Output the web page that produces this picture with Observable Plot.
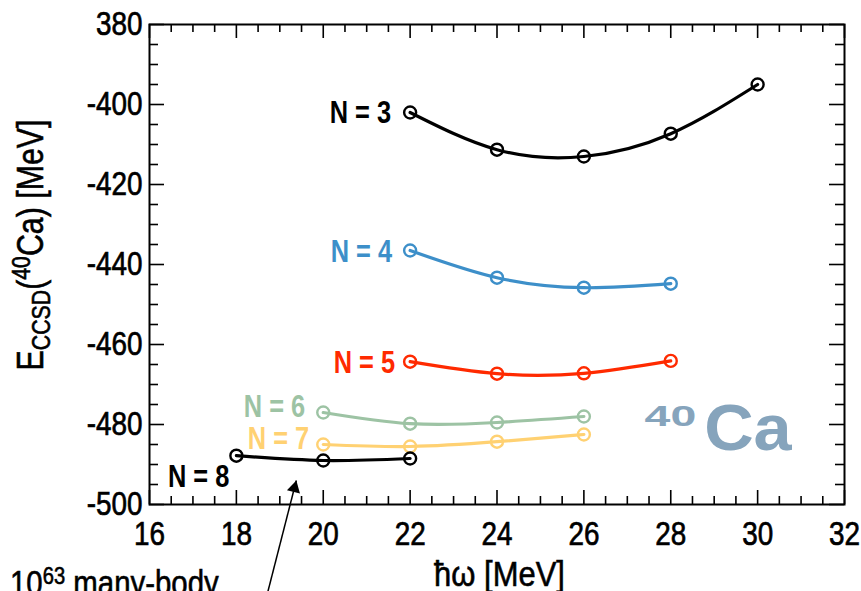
<!DOCTYPE html>
<html>
<head>
<meta charset="utf-8">
<script src="https://cdn.jsdelivr.net/npm/d3@7"></script>
<script src="https://cdn.jsdelivr.net/npm/@observablehq/plot@0.6"></script>
<style>
  html, body { margin: 0; padding: 0; background: #fff; }
  #chart svg { display: block; }
</style>
</head>
<body>
<div id="chart"></div>
<script>
// ---- data ----
const hw3 = [22, 24, 26, 28, 30];
const E3  = [-402.0, -411.3, -413.0, -407.3, -395.0];
const hw4 = [22, 24, 26, 28];
const E4  = [-436.5, -443.3, -445.8, -444.8];
const hw5 = [22, 24, 26, 28];
const E5  = [-464.3, -467.3, -467.2, -464.1];
const hw6 = [20, 22, 24, 26];
const E6  = [-477.0, -479.8, -479.5, -478.0];
const hw7 = [20, 22, 24, 26];
const E7  = [-485.0, -485.5, -484.3, -482.5];
const hw8 = [18, 20, 22];
const E8  = [-487.8, -489.0, -488.5];
const seriesNames = ["N = 3", "N = 4", "N = 5", "N = 6", "N = 7", "N = 8"];

const xTickValues = [16, 18, 20, 22, 24, 26, 28, 30, 32];
const xTickLabels = ["16", "18", "20", "22", "24", "26", "28", "30", "32"];
const yTickValues = [-500, -480, -460, -440, -420, -400, -380];
const yTickLabels = ["-500", "-480", "-460", "-440", "-420", "-400", "380"];

const arrowTail = {x: 18.72, y: -522};
const arrowTip  = {x: 19.38, y: -494};

// ---- styles ----
const seriesStyle = [
  {color: "#000000", dx: -19, dy: 1},
  {color: "#3d8fc9", dx: -18, dy: 2},
  {color: "#ff2a00", dx: -15, dy: 1},
  {color: "#9dc3a4", dx: -18, dy: -5},
  {color: "#ffd172", dx: -14, dy: -5},
  {color: "#000000", dx: -7,  dy: 21}
];
const FONT = "'Liberation Sans', Arial, Helvetica, sans-serif";
const NARROW = 0.82;

const W = 861, H = 591;
const mL = 149, mR = 17, mT = 24, mB = 87;
const fw = W - mL - mR, fh = H - mT - mB;

const allHw = [hw3, hw4, hw5, hw6, hw7, hw8];
const allE = [E3, E4, E5, E6, E7, E8];
const series = allHw.map((hw, i) => hw.map((x, j) => ({x, y: allE[i][j], N: seriesNames[i]})));

const xMinor = d3.range(16, 32.001, 0.5).filter(v => !xTickValues.includes(v));
const yMinor = d3.range(-500, -379.999, 5).filter(v => !yTickValues.includes(v));
const xFmt = new Map(xTickValues.map((v, i) => [v, xTickLabels[i]]));
const yFmt = new Map(yTickValues.map((v, i) => [v, yTickLabels[i]]));

const marks = [];
// inward ticks on all four sides
marks.push(Plot.ruleX(xMinor, {insetTop: fh - 8, strokeWidth: 1.6}));
marks.push(Plot.ruleX(xTickValues, {insetTop: fh - 14, strokeWidth: 1.6}));
marks.push(Plot.ruleX(xMinor, {insetBottom: fh - 8, strokeWidth: 1.6}));
marks.push(Plot.ruleX(xTickValues, {insetBottom: fh - 14, strokeWidth: 1.6}));
marks.push(Plot.ruleY(yMinor, {insetRight: fw - 9, strokeWidth: 1.6}));
marks.push(Plot.ruleY(yTickValues, {insetRight: fw - 15, strokeWidth: 1.6}));
marks.push(Plot.ruleY(yMinor, {insetLeft: fw - 9, strokeWidth: 1.6}));
marks.push(Plot.ruleY(yTickValues, {insetLeft: fw - 15, strokeWidth: 1.6}));
marks.push(Plot.frame({strokeWidth: 2}));

marks.push(Plot.axisX(xTickValues, {tickSize: 0, tickPadding: 16, fontSize: 34, label: null,
  tickFormat: d => xFmt.get(d), fontFamily: FONT}));
marks.push(Plot.axisY(yTickValues, {tickSize: 0, tickPadding: 7, fontSize: 34, label: null,
  tickFormat: d => yFmt.get(d), fontFamily: FONT}));

series.forEach((s, i) => {
  const st = seriesStyle[i];
  marks.push(Plot.line(s, {x: "x", y: "y", stroke: st.color, strokeWidth: 3.2, curve: "natural"}));
  marks.push(Plot.dot(s, {x: "x", y: "y", r: 6, stroke: st.color, strokeWidth: 2.4, fill: "none"}));
  marks.push(Plot.text([s[0]], {x: "x", y: "y", text: "N", fill: st.color, textAnchor: "end",
    dx: st.dx, dy: st.dy, fontSize: 31, fontWeight: "bold", fontFamily: FONT}));
});

// arrow from the bottom-left annotation
marks.push(Plot.link([{}], {x1: () => arrowTail.x, y1: () => arrowTail.y, x2: () => arrowTip.x, y2: () => arrowTip.y,
  stroke: "black", strokeWidth: 1.5}));
marks.push(Plot.dot([arrowTip], {x: "x", y: "y", symbol: "triangle", r: 5, fill: "black", stroke: "none",
  rotate: 14.3, dx: -1.9, dy: 7.6}));

const plot = Plot.plot({
  width: W, height: H,
  marginLeft: mL, marginRight: mR, marginTop: mT, marginBottom: mB,
  x: {domain: [16, 32]},
  y: {domain: [-500, -380]},
  style: {fontFamily: FONT, background: "white", color: "black", overflow: "visible"},
  marks
});

// condense Plot's own texts (Helvetica-Narrow look)
d3.select(plot).selectAll("text").each(function() {
  const t = this.getAttribute("transform");
  if (t) this.setAttribute("transform", t + ` scale(${NARROW},1)`);
});
// heavier tick labels
d3.select(plot).selectAll('g[aria-label$="tick label"] text')
  .attr("stroke", "black").attr("stroke-width", 0.7);

// rich-text labels (sub/superscripts)
const svg = d3.select(plot);
const xs = plot.scale("x"), ys = plot.scale("y");

const yl = svg.append("text")
  .attr("transform", `translate(43,${mT + fh / 2 - 19}) rotate(-90) scale(0.82,1)`)
  .attr("text-anchor", "middle").attr("font-family", FONT).attr("font-size", 37).attr("fill", "black")
  .attr("stroke", "black").attr("stroke-width", 0.6);
yl.append("tspan").text("E");
yl.append("tspan").attr("font-size", 26).attr("dy", 7).text("CCSD");
yl.append("tspan").attr("dy", -7).text("(");
yl.append("tspan").attr("font-size", 26).attr("dy", -13).text("40");
yl.append("tspan").attr("dy", 13).text("Ca) [MeV]");

svg.append("text")
  .attr("transform", `translate(${mL + fw / 2 + 3},586) scale(0.86,1)`)
  .attr("text-anchor", "middle").attr("font-family", FONT).attr("font-size", 36).attr("fill", "black")
  .attr("stroke", "black").attr("stroke-width", 0.6)
  .text("ħω [MeV]");

const note = svg.append("text")
  .attr("transform", `translate(10,595) scale(0.84,1)`)
  .attr("text-anchor", "start")
  .attr("font-family", FONT).attr("font-size", 35).attr("fill", "black")
  .attr("stroke", "black").attr("stroke-width", 0.6);
note.append("tspan").text("10");
note.append("tspan").attr("font-size", 24).attr("dy", -11).text("63");
note.append("tspan").attr("dy", 11).text(" many-body");

// 40Ca label
svg.append("text")
  .attr("transform", `translate(${xs.apply(28.78)},${ys.apply(-486.5)}) scale(1.07,1)`)
  .attr("text-anchor", "start")
  .attr("font-family", FONT).attr("font-weight", "bold")
  .attr("font-size", 64).attr("fill", "#86a4bc").text("Ca");
svg.append("text")
  .attr("transform", `translate(${xs.apply(27.41)},${ys.apply(-480.5)}) scale(1.6,1)`)
  .attr("text-anchor", "start")
  .attr("font-family", FONT).attr("font-weight", "bold")
  .attr("font-size", 29).attr("fill", "#86a4bc").text("40");

document.getElementById("chart").appendChild(plot);
</script>
</body>
</html>
